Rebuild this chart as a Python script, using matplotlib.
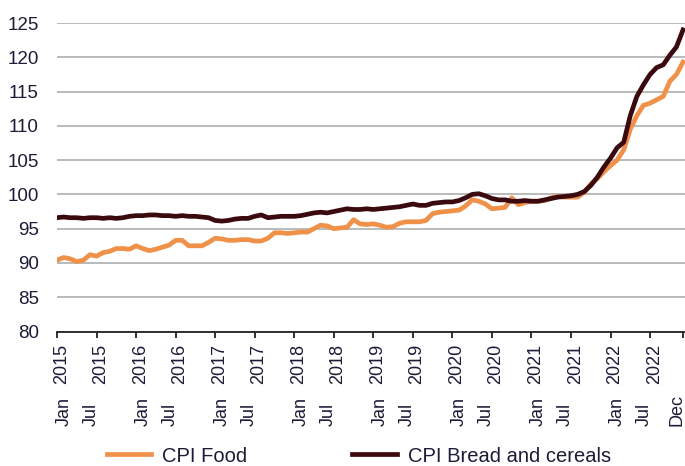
import numpy as np
import matplotlib
matplotlib.use("Agg")
import matplotlib.pyplot as plt

plt.rcParams["font.family"] = ["Liberation Sans", "DejaVu Sans"]

# monthly index, Jan 2015 .. Dec 2022
cpi_food = [
    90.4, 90.8, 90.6, 90.2, 90.4, 91.2, 91.0, 91.5, 91.7, 92.1, 92.1, 92.0,
    92.5, 92.1, 91.8, 92.0, 92.3, 92.6, 93.3, 93.3, 92.5, 92.5, 92.5, 93.0,
    93.6, 93.5, 93.3, 93.3, 93.4, 93.4, 93.2, 93.2, 93.6, 94.4, 94.4, 94.3,
    94.4, 94.5, 94.5, 95.0, 95.5, 95.4, 95.0, 95.1, 95.2, 96.3, 95.7, 95.6,
    95.7, 95.5, 95.2, 95.3, 95.8, 96.0, 96.0, 96.0, 96.2, 97.2, 97.4, 97.5,
    97.6, 97.7, 98.3, 99.2, 99.0, 98.6, 97.9, 98.0, 98.1, 99.5, 98.5, 98.8,
    99.0, 99.0, 99.1, 99.5, 99.7, 99.6, 99.6, 99.6, 100.3, 101.5, 102.3, 103.3,
    104.2, 105.0, 106.5, 109.5, 111.5, 113.0, 113.3, 113.8, 114.3, 116.5, 117.5, 119.3,
]
cpi_bread = [
    96.6, 96.7, 96.6, 96.6, 96.5, 96.6, 96.6, 96.5, 96.6, 96.5, 96.6, 96.8,
    96.9, 96.9, 97.0, 97.0, 96.9, 96.9, 96.8, 96.9, 96.8, 96.8, 96.7, 96.6,
    96.2, 96.1, 96.2, 96.4, 96.5, 96.5, 96.8, 97.0, 96.6, 96.7, 96.8, 96.8,
    96.8, 96.9, 97.1, 97.3, 97.4, 97.3, 97.5, 97.7, 97.9, 97.8, 97.8, 97.9,
    97.8, 97.9, 98.0, 98.1, 98.2, 98.4, 98.6, 98.4, 98.4, 98.7, 98.8, 98.9,
    98.9, 99.1, 99.5, 100.0, 100.1, 99.8, 99.4, 99.2, 99.2, 99.0, 99.0, 99.1,
    99.0, 99.0, 99.2, 99.4, 99.6, 99.7, 99.8, 100.0, 100.4, 101.3, 102.5, 104.0,
    105.3, 106.8, 107.6, 111.5, 114.3, 116.0, 117.5, 118.5, 118.9, 120.3, 121.5, 124.0,
]
tick_pos = [0, 6, 12, 18, 24, 30, 36, 42, 48, 54, 60, 66, 72, 78, 84, 90, 95]
tick_month = ["Jan", "Jul"] * 8 + ["Dec"]
tick_year = [str(y) for y in range(2015, 2023) for _ in range(2)] + [""]

orange = "#f0914a"
dark = "#3b0a0e"
txt = "#1c1c38"

x = np.arange(len(cpi_food))

fig = plt.figure(figsize=(6.85, 4.66), dpi=100)
ax = fig.add_axes([57 / 685, 1 - 331.5 / 466, 1 - 57 / 685, (331.5 - 23) / 466])

ax.plot(x, cpi_food, color=orange, lw=3.4, label="CPI Food", zorder=3)
ax.plot(x, cpi_bread, color=dark, lw=3.4, label="CPI Bread and cereals", zorder=4)

ax.set_ylim(80, 125)
ax.set_xlim(0, 95.3)
ax.set_yticks(range(80, 126, 5))
ax.yaxis.grid(True, color="#b4b4b4", lw=1.3)
ax.set_axisbelow(True)
for s in ["top", "right", "left"]:
    ax.spines[s].set_visible(False)
ax.spines["bottom"].set_color("#222222")
ax.spines["bottom"].set_linewidth(1.3)
ax.tick_params(axis="y", length=0, pad=13, labelsize=13.5, labelcolor=txt)

ax.set_xticks(tick_pos)
ax.set_xticklabels([])
ax.tick_params(axis="x", direction="out", length=4, width=1.3, color="#222222")

for p, m, yr in zip(tick_pos, tick_month, tick_year):
    ax.annotate(yr, xy=(p, 0), xycoords=("data", "axes fraction"),
                xytext=(3, -9), textcoords="offset points",
                rotation=90, ha="center", va="top", fontsize=13, color=txt)
    dx = 5 if m == "Jan" else -4
    ax.annotate(m, xy=(p, 0), xycoords=("data", "axes fraction"),
                xytext=(dx, -68), textcoords="offset points",
                rotation=90, ha="center", va="bottom", fontsize=13, color=txt,
                annotation_clip=False)

fig.legend(loc="center left", bbox_to_anchor=(107 / 685, 1 - 456 / 466),
           ncol=2, frameon=False, fontsize=14.5, handlelength=2.2,
           handletextpad=0.55, columnspacing=5.2, borderpad=0, borderaxespad=0,
           labelcolor=txt)

fig.savefig("out.png", dpi=100)
